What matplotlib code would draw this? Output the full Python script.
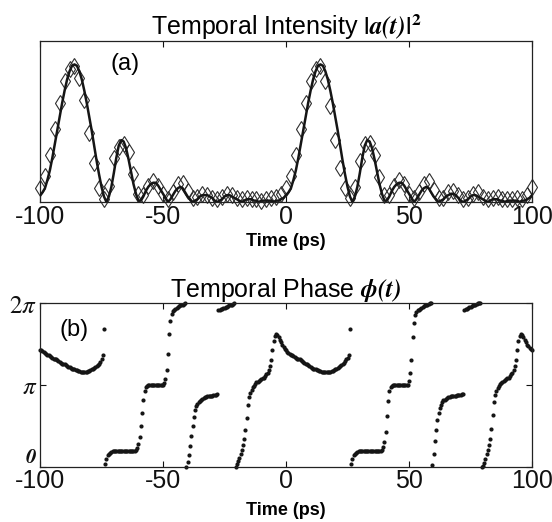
import numpy as np
import matplotlib
matplotlib.use("Agg")
import matplotlib.pyplot as plt
import matplotlib.transforms as mtransforms

plt.rcParams['font.family'] = ['Liberation Sans', 'DejaVu Sans']
plt.rcParams['mathtext.fontset'] = 'stix'

# ---------------- data: temporal intensity (normalised) ----------------
# solid line, 1 ps sampling from -100 to 100 ps
intensity_line = [
    0.05, 0.07, 0.10, 0.16, 0.23, 0.32, 0.42, 0.52, 0.62, 0.72,   # -100..-91
    0.81, 0.89, 0.95, 0.99, 1.00, 0.99, 0.95, 0.89, 0.81, 0.72,   # -90..-81
    0.62, 0.52, 0.41, 0.30, 0.20, 0.11, 0.04, 0.00, 0.04, 0.11,   # -80..-71
    0.21, 0.32, 0.41, 0.45, 0.44, 0.39, 0.31, 0.22, 0.13, 0.06,   # -70..-61
    0.01, 0.01, 0.04, 0.08, 0.11, 0.13, 0.14, 0.14, 0.12, 0.09,   # -60..-51
    0.06, 0.03, 0.00, 0.02, 0.05, 0.08, 0.10, 0.11, 0.10, 0.07,   # -50..-41
    0.04, 0.02, 0.00, 0.01, 0.02, 0.04, 0.05, 0.05, 0.05, 0.04,   # -40..-31
    0.03, 0.01, 0.00, 0.01, 0.02, 0.04, 0.05, 0.05, 0.04, 0.03,   # -30..-21
    0.02, 0.01, 0.00, 0.01, 0.02, 0.02, 0.02, 0.01, 0.01, 0.00,   # -20..-11
    0.01, 0.01, 0.01, 0.01, 0.01, 0.00, 0.01, 0.01, 0.02, 0.03,   # -10..-1
    0.05, 0.07, 0.10, 0.16, 0.23, 0.32, 0.42, 0.52, 0.62, 0.72,   # 0..9
    0.81, 0.89, 0.95, 0.99, 1.00, 0.99, 0.95, 0.89, 0.81, 0.72,   # 10..19
    0.62, 0.52, 0.41, 0.30, 0.20, 0.11, 0.04, 0.00, 0.04, 0.11,   # 20..29
    0.21, 0.32, 0.41, 0.45, 0.44, 0.39, 0.31, 0.22, 0.13, 0.06,   # 30..39
    0.01, 0.01, 0.04, 0.08, 0.11, 0.13, 0.14, 0.14, 0.12, 0.09,   # 40..49
    0.06, 0.03, 0.00, 0.02, 0.05, 0.08, 0.10, 0.11, 0.10, 0.07,   # 50..59
    0.04, 0.02, 0.00, 0.01, 0.02, 0.04, 0.05, 0.06, 0.06, 0.05,   # 60..69
    0.03, 0.01, 0.00, 0.01, 0.02, 0.04, 0.05, 0.05, 0.04, 0.03,   # 70..79
    0.02, 0.01, 0.00, 0.01, 0.02, 0.02, 0.02, 0.01, 0.01, 0.00,   # 80..89
    0.01, 0.01, 0.01, 0.01, 0.01, 0.00, 0.01, 0.01, 0.02, 0.03,   # 90..99
    0.05,                                                         # 100
]
# measured points (diamonds), 2 ps sampling from -100 to 100 ps
intensity_diamonds = [
    0.10, 0.19, 0.34, 0.53, 0.72, 0.88, 0.97, 0.99, 0.90, 0.74,   # -100..-82
    0.50, 0.28, 0.10, 0.02, 0.12, 0.32, 0.40, 0.42, 0.36, 0.20,   # -80..-62
    0.06, 0.05, 0.12, 0.15, 0.12, 0.06, 0.02, 0.07, 0.13, 0.14,   # -60..-42
    0.08, 0.03, 0.04, 0.06, 0.05, 0.03, 0.02, 0.04, 0.06, 0.05,   # -40..-22
    0.03, 0.02, 0.03, 0.02, 0.02, 0.01, 0.02, 0.03, 0.04, 0.06,   # -20..-2
    0.10, 0.19, 0.34, 0.53, 0.72, 0.88, 0.97, 0.99, 0.88, 0.70,   # 0..18
    0.45, 0.25, 0.10, 0.03, 0.11, 0.30, 0.42, 0.43, 0.34, 0.18,   # 20..38
    0.05, 0.05, 0.12, 0.16, 0.13, 0.06, 0.03, 0.07, 0.13, 0.15,   # 40..58
    0.09, 0.03, 0.03, 0.07, 0.08, 0.05, 0.02, 0.03, 0.06, 0.07,   # 60..78
    0.04, 0.02, 0.03, 0.04, 0.02, 0.02, 0.02, 0.03, 0.02, 0.05,   # 80..98
    0.11,                                                         # 100
]

# ---------------- data: temporal phase (units of pi), 0.5 ps samples ----------------
phase_step = 0.5
phase_A_start, phase_A = -100.0, [
    1.43, 1.42, 1.41, 1.40, 1.39, 1.38, 1.37, 1.36, 1.35, 1.34,
    1.33, 1.32, 1.31, 1.31, 1.30, 1.29, 1.28, 1.27, 1.26, 1.26,
    1.25, 1.24, 1.23, 1.22, 1.22, 1.21, 1.20, 1.19, 1.19, 1.18,
    1.18, 1.17, 1.17, 1.16, 1.16, 1.16, 1.16, 1.16, 1.16, 1.17,
    1.17, 1.18, 1.19, 1.20, 1.21, 1.22, 1.23, 1.24, 1.26, 1.28,
    1.31, 1.36, 1.68]
phase_B_start, phase_B = -73.5, [
    0.03, 0.09, 0.14, 0.16, 0.17, 0.18,
    0.19, 0.19, 0.19, 0.19, 0.19, 0.19, 0.19, 0.19, 0.19, 0.19,
    0.19, 0.19, 0.19, 0.19, 0.19, 0.19, 0.19, 0.19, 0.19,
    0.20, 0.23, 0.28, 0.36, 0.50, 0.66, 0.82, 0.92, 0.97, 0.99,
    1.00, 1.00, 1.00, 1.00, 1.00, 1.00, 1.00, 1.00, 1.00, 1.00, 1.00, 1.00, 1.00,
    1.02, 1.07, 1.18, 1.38, 1.62, 1.78, 1.86, 1.90, 1.92, 1.93,
    1.94, 1.95, 1.96, 1.97, 1.98, 1.98, 1.99, 2.00]
phase_C_start, phase_C = -40.5, [
    0.00, 0.06, 0.14, 0.25, 0.38, 0.50, 0.61, 0.69, 0.74, 0.77,
    0.79, 0.80, 0.82, 0.83, 0.84, 0.85, 0.85, 0.86, 0.86, 0.87,
    0.87, 0.87, 0.88, 0.88, 0.88, 0.89]
phase_D_start, phase_D = -27.5, [
    1.92, 1.92, 1.93, 1.93, 1.94, 1.94, 1.95, 1.95, 1.96, 1.97,
    1.97, 1.98, 1.99, 2.00]
phase_E_start, phase_E = -20.5, [
    0.00, 0.03, 0.07, 0.11, 0.16, 0.21, 0.27, 0.34, 0.45, 0.60,
    0.75, 0.85, 0.90, 0.94, 0.97, 0.99, 1.01, 1.03, 1.04, 1.05,
    1.06, 1.07, 1.08, 1.09, 1.11, 1.13, 1.15, 1.18, 1.23, 1.30,
    1.43, 1.54, 1.60, 1.62, 1.61, 1.58, 1.55, 1.52, 1.49, 1.46,
    1.44, 1.42, 1.40, 1.39, 1.38, 1.37, 1.36, 1.35, 1.34, 1.33,
    1.32, 1.31, 1.31, 1.30, 1.29, 1.28, 1.27, 1.26, 1.25, 1.24,
    1.23, 1.22, 1.21, 1.20, 1.20, 1.19, 1.18, 1.18, 1.17, 1.17,
    1.16, 1.16, 1.16, 1.16, 1.16, 1.16, 1.16, 1.16, 1.17, 1.17,
    1.18, 1.19, 1.20, 1.21, 1.22, 1.23, 1.24, 1.25, 1.27, 1.29,
    1.31, 1.33, 1.36, 1.68]
phase_F_start, phase_F = 26.5, [
    0.03, 0.09, 0.14, 0.16, 0.17, 0.18,
    0.19, 0.19, 0.19, 0.19, 0.19, 0.19, 0.19, 0.19, 0.19, 0.19,
    0.19, 0.19, 0.19, 0.19, 0.19, 0.19, 0.19, 0.19, 0.19,
    0.20, 0.24, 0.30, 0.42, 0.62, 0.80, 0.92, 0.97, 0.99,
    1.00, 1.00, 1.00, 1.00, 1.00, 1.00, 1.00, 1.00, 1.00, 1.00, 1.00, 1.00, 1.00,
    1.05, 1.14, 1.30, 1.58, 1.76, 1.85, 1.89, 1.91, 1.92, 1.93,
    1.94, 1.95, 1.96, 1.97, 1.98, 1.98, 1.99, 2.00, 2.00]
phase_G_start, phase_G = 59.5, [
    0.02, 0.16, 0.31, 0.45, 0.57, 0.66, 0.72, 0.76, 0.79, 0.81,
    0.82, 0.83, 0.84, 0.85, 0.85, 0.86, 0.86, 0.87, 0.87, 0.87,
    0.88, 0.88, 0.88, 0.88, 0.89, 0.89]
phase_H_start, phase_H = 72.5, [
    1.92, 1.93, 1.93, 1.94, 1.95, 1.95, 1.96, 1.97, 1.97, 1.98,
    1.99, 2.00, 2.00, 2.00]
phase_I_start, phase_I = 79.5, [
    0.00, 0.01, 0.05, 0.10, 0.15, 0.20, 0.26, 0.34, 0.46, 0.63,
    0.79, 0.88, 0.93, 0.96, 0.99, 1.01, 1.02, 1.04, 1.05, 1.06,
    1.07, 1.08, 1.09, 1.11, 1.13, 1.15, 1.18, 1.23, 1.30, 1.42,
    1.53, 1.60, 1.62, 1.61, 1.58, 1.55, 1.52, 1.49, 1.47, 1.45,
    1.44, 1.43]

phase_segments = [
    (phase_A_start, phase_A), (phase_B_start, phase_B), (phase_C_start, phase_C),
    (phase_D_start, phase_D), (phase_E_start, phase_E), (phase_F_start, phase_F),
    (phase_G_start, phase_G), (phase_H_start, phase_H), (phase_I_start, phase_I),
]

x_ticks = [-100, -50, 0, 50, 100]
x_ticklabels = ['-100', '-50', '0', '50', '100']
phase_ticks = [0, np.pi, 2 * np.pi]
phase_ticklabels = [r'$\mathbfit{0}$', r'$\pi$', r'$2\pi$']

# ---------------- figure ----------------
fig = plt.figure(figsize=(5.52, 5.22), dpi=100)
ax1 = fig.add_axes([0.0725, 0.613, 0.8913, 0.3084])
ax2 = fig.add_axes([0.0725, 0.1059, 0.8913, 0.3136])

t_line = np.linspace(-100, 100, len(intensity_line))
t_diam = np.linspace(-100, 100, len(intensity_diamonds))
ax1.plot(t_diam, intensity_diamonds, ls='none', marker='d', ms=8,
         mfc='none', mec='#2e2e2e', mew=0.8, zorder=2, clip_on=False)
ax1.plot(t_line, intensity_line, color='#151515', lw=1.8, zorder=3)
ax1.set_xlim(-100, 100)
ax1.set_ylim(0, 1.17)
ax1.set_yticks([])
ax1.set_xticks(x_ticks)
ax1.set_xticklabels(x_ticklabels)
ax1.set_title(r'Temporal Intensity $\mathbf{|}\mathbfit{a(t)}\mathbf{|}^{\mathbf{2}}$',
              fontsize=18, pad=4)
ax1.set_xlabel('Time (ps)', fontsize=13, fontweight='bold', labelpad=3)
ax1.text(-65.4, 1.0, '(a)', fontsize=17, ha='center', va='center')

for start, vals in phase_segments:
    tt = start + phase_step * np.arange(len(vals))
    ax2.plot(tt, np.array(vals) * np.pi, ls='none', marker='o', ms=3.0,
             color='#151515', mew=0, clip_on=False)
ax2.set_xlim(-100, 100)
ax2.set_ylim(0, 2 * np.pi)
ax2.set_xticks(x_ticks)
ax2.set_xticklabels(x_ticklabels)
ax2.set_yticks(phase_ticks)
ax2.set_yticklabels(phase_ticklabels)
ax2.set_title(r'Temporal Phase $\mathbfit{\phi(t)}$', fontsize=18, pad=4)
ax2.set_xlabel('Time (ps)', fontsize=13, fontweight='bold', labelpad=6)
ax2.text(-86.2, 1.673 * np.pi, '(b)', fontsize=17, ha='center', va='center')

for ax in (ax1, ax2):
    ax.tick_params(direction='in', top=True, right=True, length=4, width=0.8,
                   labelsize=18, pad=2, colors='#111111')
    for s in ax.spines.values():
        s.set_linewidth(0.9)
        s.set_color('#222222')

# lift the "0" phase label a little so it sits clear of the "-100" label
zero_lbl = ax2.get_yticklabels()[0]
zero_lbl.set_transform(zero_lbl.get_transform() +
                       mtransforms.ScaledTranslation(0, 8 / 72, fig.dpi_scale_trans))
zero_lbl.set_fontsize(15)

fig.savefig('out.png', dpi=100)
